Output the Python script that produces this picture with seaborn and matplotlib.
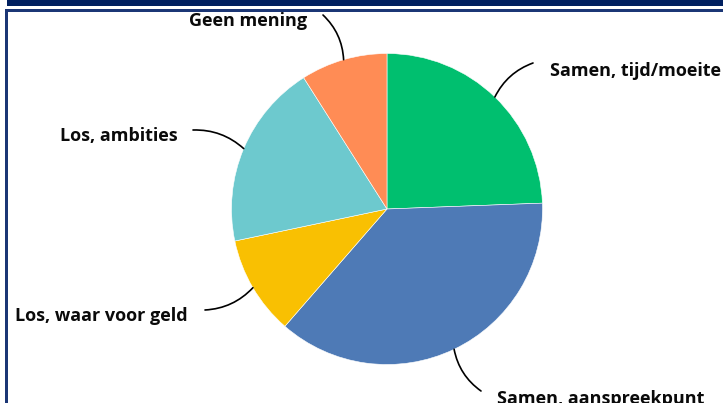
import matplotlib
matplotlib.use("Agg")
import matplotlib.pyplot as plt
import seaborn as sns
from matplotlib.patches import Rectangle
import numpy as np

# Data (percent shares, clockwise from 12 o'clock)
labels = ["Samen, tijd/moeite", "Samen, aanspreekpunt", "Los, waar voor geld",
          "Los, ambities", "Geen mening"]
shares = [24.4, 37.0, 10.3, 19.3, 9.0]
colors = ["#00BF6F", "#4E7AB6", "#F9C002", "#6DC9CE", "#FF8C55"]

# Label text positions (pixels from top-left), alignment, leader end and curvature
label_pos = [(550, 71), (497, 399), (188, 316), (178, 136), (307, 21)]
label_ha = ["left", "left", "right", "right", "right"]
leader_end = [(533, 63), (481, 391), (205, 310), (193, 130), (323, 15)]
leader_rad = [0.2, -0.2, 0.2, -0.2, -0.2]

W, H = 723, 403
sns.set_theme(style="white")
plt.rcParams["font.family"] = ["Open Sans", "DejaVu Sans"]

fig = plt.figure(figsize=(W / 100, H / 100), dpi=100)
ax = fig.add_axes([0, 0, 1, 1])

cx, cy, r = 387, H - 209, 155.5
wedges, _ = ax.pie(shares, colors=colors, startangle=90, counterclock=False,
                   center=(cx, cy), radius=r, frame=True,
                   wedgeprops=dict(edgecolor="white", linewidth=0.4))
ax.set_xlim(0, W)
ax.set_ylim(0, H)
ax.axis("off")

for w, lab, (tx, ty), ha, (ex, ey), rad in zip(wedges, labels, label_pos, label_ha,
                                                 leader_end, leader_rad):
    ang = np.deg2rad((w.theta1 + w.theta2) / 2)
    sx, sy = cx + r * np.cos(ang), cy + r * np.sin(ang)
    ax.annotate("", xy=(sx, sy), xytext=(ex, H - ey),
                arrowprops=dict(arrowstyle="-", color="black", lw=1.2,
                                shrinkA=0, shrinkB=0,
                                connectionstyle=f"arc3,rad={rad}"))
    ax.text(tx, H - ty, lab, ha=ha, va="center", fontsize=13,
            fontweight="bold", color="#0a0a0a")

# frame decoration
navy = "#002060"
fig.add_artist(Rectangle((7 / W, 1 - 6 / H), 1, 6 / H, transform=fig.transFigure,
                         color=navy, lw=0))
fig.add_artist(Rectangle((5 / W, 1 - 12 / H), 1, 2.5 / H, transform=fig.transFigure,
                         color="#1B3675", lw=0))
fig.add_artist(Rectangle((5 / W, 0), 2.5 / W, 1 - 10 / H, transform=fig.transFigure,
                         color="#1B3675", lw=0))

fig.savefig("out.png", dpi=100)
